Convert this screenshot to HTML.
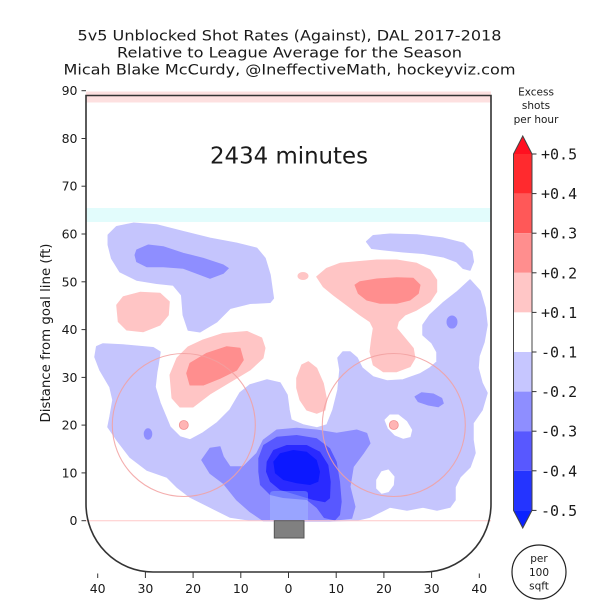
<!DOCTYPE html>
<html>
<head>
<meta charset="utf-8">
<style>
html,body{margin:0;padding:0;background:#fff;}
svg{display:block;}
text{font-family:"DejaVu Sans","Liberation Sans",sans-serif;fill:#1a1a1a;}
.mono{font-family:"DejaVu Sans Mono","Liberation Mono",monospace;}
</style>
</head>
<body>
<svg width="600" height="600" viewBox="0 0 600 600" xmlns="http://www.w3.org/2000/svg">
<rect width="600" height="600" fill="#fff"/>

<!-- Title -->
<text x="289.5" y="40.5" text-anchor="middle" font-size="14.5" textLength="424" lengthAdjust="spacingAndGlyphs">5v5 Unblocked Shot Rates (Against), DAL 2017-2018</text>
<text x="289.5" y="57.5" text-anchor="middle" font-size="14.5" textLength="345" lengthAdjust="spacingAndGlyphs">Relative to League Average for the Season</text>
<text x="289.5" y="74.5" text-anchor="middle" font-size="14.5" textLength="452" lengthAdjust="spacingAndGlyphs">Micah Blake McCurdy, @IneffectiveMath, hockeyviz.com</text>

<!-- bands -->
<rect x="86" y="91.5" width="405" height="11" fill="#fde0e0"/>
<rect x="86" y="208" width="405" height="14" fill="#e2fcfc"/>

<!-- light blue regions -->
<g fill="#c5c5fd" stroke="#c5c5fd" stroke-width="1.5" stroke-linejoin="round">
<polygon points="108.3,235 116.7,226.7 133.3,223.3 156.7,225 183.3,231.7 210,238.3 236.7,243.3 256.7,248.3 265,258.3 270,275 273.3,298.3 270,302.3 250,303.3 230,308.3 216.7,321.7 200,331.7 188.3,330 183.3,315 181.7,295 173.3,285 156.7,283.3 136.7,280 120,271.7 111.7,258.3 108.3,245"/>
<polygon points="366.7,241.7 373.3,235.7 390,234.3 416.7,235 443.3,238.3 463.3,243.3 471.7,251.7 473.3,261.7 470,270 463.3,268.3 456.7,261.7 443.3,256.7 423.3,253.3 403.3,251.7 386.7,250 371.7,248.3"/>
<polygon points="96.7,346.7 103,344 123,345 153,347.7 160,352 158,365 156.7,372 155,387 160,403 170,427 180,437 190,440 203,433 217,423 230,410 240,393 250,385 267,380 280,383 287,395 289,410 291,420 303,425 317,428 327,425 333,410 338,390 340,370 338,358 343,352 350,352 357,358 362,368 373,377 387,381 403,380 420,374 430,368 437,362 437,352 432,343 423,335 423,325 430,315 443,303 457,292 470,280 480,291 485,308 487,325 484,342 479,356 478,368 482,383 487,393 482,410 473,423 473,440 475,453 470,467 460,477 455,487 455,500 450,507 437,510 423,507 407,510 390,507 380,512 370,517 357,520 330,521 300,521 270,520.5 250,520 230,517 210,507 190,497 177,487 167,477 147,470 130,457 117,440 108,427 110,417 113,400 110,387 100,370 95,357"/>
</g>

<!-- white holes -->
<g fill="#fff" stroke="#fff" stroke-width="1" stroke-linejoin="round">
<polygon points="385,420 390,415 398.3,415 406.7,421.7 411.7,430 410,436.7 403.3,438.3 395,435 388.3,428.3"/>
<polygon points="376.7,480 381.7,471.7 388.3,470 394,476.7 393.3,485 388.3,491.7 381.7,493.3 376.7,488.3"/>
</g>

<!-- medium blue -->
<g fill="#8e8eff" stroke="#8e8eff" stroke-width="1" stroke-linejoin="round">
<polygon points="136.7,250 148.3,245 163.3,246.7 183.3,253.3 203.3,258.3 223.3,265 228.3,268.3 223.3,273.3 210,278.3 196.7,273.3 183.3,268.3 163.3,266.7 146.7,266.7 136.7,261.7 135,255"/>
<polygon points="201.7,460 210,448.3 220,446.7 223.3,456.7 230,466.7 243.3,466.7 256.7,453.3 263.3,440 276.7,430 296.7,428.3 316.7,430 336.7,433.3 356.7,430 366.7,433.3 370,443.3 363.3,453.3 353.3,466.7 350,486.7 355,506.7 351.7,518.3 330,520.7 290,520.7 263.3,520.7 250,511.7 236.7,500 223.3,483.3 210,473.3"/>
<polygon points="415,396.7 421.7,392.7 433.3,394 441.7,398.3 443.3,403.3 438.3,406.7 428.3,405 418.3,401.7"/>
<ellipse cx="452" cy="322" rx="5" ry="6"/>
<ellipse cx="148" cy="434" rx="3.8" ry="5.2"/>
</g>
<polygon fill="#5858ff" points="258.3,458.3 263.3,445 276.7,436.7 296.7,435 316.7,438.3 330,448.3 336.7,461.7 340,481.7 341.7,501.7 340,515 335,520.5 324,518 316.7,508 306.7,500 283,498 270,495 260,485 258.3,471.7"/>
<polygon fill="#2a2aff" points="266.7,461.7 273.3,450 286.7,445 306.7,445 320,451.7 328.3,465 330.7,481.7 330,498.3 325,502.3 313.3,500 296.7,495 280,490 270,481.7 266,471.7"/>
<polygon fill="#0c18ff" points="273.3,461.7 280,453.3 293.3,450 306.7,451.7 316.7,460 320,471.7 318.3,481.7 310,485 296.7,483.3 283.3,480 275,473.3"/>

<!-- light pink -->
<g fill="#ffc5c5" stroke="#ffc5c5" stroke-width="1" stroke-linejoin="round">
<polygon points="116.7,305 123.3,296.7 140,292.3 160,293.3 169.3,301.7 168.3,315 160,325 143.3,331.7 126.7,330 118.3,321.7"/>
<polygon points="170,375 177,358 188,347 203,340 223,333.5 247,331.5 261.7,338 265,348 263,358 250,370 230,382 210,394 193,407 180,407 172,398"/>
<polygon points="296.7,378 301.7,365 308.3,361.7 316.7,368.3 323.3,383.3 326.7,400 325,410 316.7,413.3 306.7,410 300,400 296.7,388"/>
<polygon points="316.7,276.7 326.7,268.3 340,263.3 356.7,261.7 376.7,260 396.7,260 416.7,263.3 430,270 436.7,280 436.7,291.7 430,301.7 416.7,310 405,315 398.3,321.7 396.7,328.3 405,338.3 413.3,348.3 415,358.3 410,366.7 396.7,371.7 383.3,371.7 373.3,365 370,351.7 371.7,338.3 373.3,328.3 370,321.7 360,315 346.7,305 333.3,295 323.3,286.7"/>
<ellipse cx="303" cy="276" rx="5" ry="3.5"/>
</g>
<g fill="#ff8e8e" stroke="#ff8e8e" stroke-width="1" stroke-linejoin="round">
<polygon points="186.7,373.3 190,363.3 206.7,353.3 226.7,346.7 240,348.3 243.3,360 236.7,370 220,378.3 203.3,385 190,385"/>
<polygon points="355,285 360,281.7 376.7,279 396.7,277.7 413.3,278.3 420,285 418.3,293.3 410,300 396.7,303.3 380,303.3 366.7,300 358.3,293.3"/>
</g>

<!-- crease -->
<path d="M270,521 V494 Q270,491 274,491 H304 Q308,491 308,494 V521 Z" fill="#b0d4ff" fill-opacity="0.32"/>

<!-- faceoff circles -->
<g fill="none" stroke="#f2a0a0" stroke-width="1.1" stroke-opacity="0.85">
<circle cx="183.8" cy="425" r="71.5"/>
<circle cx="393.8" cy="425" r="71.5"/>
</g>
<g fill="#ffb4b4" stroke="#f29090" stroke-width="0.8">
<circle cx="183.8" cy="425" r="4.5"/>
<circle cx="393.8" cy="425" r="4.5"/>
</g>

<!-- goal line & goal -->
<line x1="86" y1="520.7" x2="491" y2="520.7" stroke="#ffc8c8" stroke-width="1"/>
<rect x="274.3" y="520.7" width="29.7" height="17.3" fill="#808080" stroke="#555" stroke-width="1"/>

<!-- rink outline -->
<path d="M86,95.5 H491 V504 A67,68 0 0 1 424,572 H153 A67,68 0 0 1 86,504 Z" fill="none" stroke="#333" stroke-width="1.6"/>

<!-- y ticks -->
<g stroke="#333" stroke-width="1">
<line x1="81.5" y1="90.7" x2="86" y2="90.7"/>
<line x1="81.5" y1="138.5" x2="86" y2="138.5"/>
<line x1="81.5" y1="186.2" x2="86" y2="186.2"/>
<line x1="81.5" y1="234" x2="86" y2="234"/>
<line x1="81.5" y1="281.8" x2="86" y2="281.8"/>
<line x1="81.5" y1="329.6" x2="86" y2="329.6"/>
<line x1="81.5" y1="377.4" x2="86" y2="377.4"/>
<line x1="81.5" y1="425.1" x2="86" y2="425.1"/>
<line x1="81.5" y1="472.9" x2="86" y2="472.9"/>
<line x1="81.5" y1="520.7" x2="86" y2="520.7"/>
</g>
<g font-size="12.5" text-anchor="end">
<text x="77.5" y="95.2">90</text>
<text x="77.5" y="143">80</text>
<text x="77.5" y="190.7">70</text>
<text x="77.5" y="238.5">60</text>
<text x="77.5" y="286.3">50</text>
<text x="77.5" y="334.1">40</text>
<text x="77.5" y="381.9">30</text>
<text x="77.5" y="429.6">20</text>
<text x="77.5" y="477.4">10</text>
<text x="77.5" y="525.2">0</text>
</g>
<text transform="translate(50,333) rotate(-90)" text-anchor="middle" font-size="13" textLength="179" lengthAdjust="spacingAndGlyphs">Distance from goal line (ft)</text>

<!-- x ticks -->
<g stroke="#333" stroke-width="1">
<line x1="97.7" y1="573.5" x2="97.7" y2="578"/>
<line x1="145.4" y1="572" x2="145.4" y2="578"/>
<line x1="193.1" y1="572" x2="193.1" y2="578"/>
<line x1="240.8" y1="572" x2="240.8" y2="578"/>
<line x1="288.5" y1="572" x2="288.5" y2="578"/>
<line x1="336.2" y1="572" x2="336.2" y2="578"/>
<line x1="383.9" y1="572" x2="383.9" y2="578"/>
<line x1="431.6" y1="572" x2="431.6" y2="578"/>
<line x1="479.3" y1="573.5" x2="479.3" y2="578"/>
</g>
<g font-size="12.5" text-anchor="middle">
<text x="97.7" y="593">40</text>
<text x="145.4" y="593">30</text>
<text x="193.1" y="593">20</text>
<text x="240.8" y="593">10</text>
<text x="288.5" y="593">0</text>
<text x="336.2" y="593">10</text>
<text x="383.9" y="593">20</text>
<text x="431.6" y="593">30</text>
<text x="479.3" y="593">40</text>
</g>

<!-- minutes -->
<text x="289" y="163.4" text-anchor="middle" font-size="23" textLength="158" lengthAdjust="spacingAndGlyphs">2434 minutes</text>

<!-- colorbar -->
<g font-size="10.5" text-anchor="middle">
<text x="536" y="95.5">Excess</text>
<text x="536" y="109">shots</text>
<text x="536" y="123">per hour</text>
</g>
<polygon points="513.5,154 522.75,136 532,154" fill="#ff1020"/>
<rect x="513.5" y="154" width="18.5" height="39.6" fill="#ff2a2e"/>
<rect x="513.5" y="193.6" width="18.5" height="39.6" fill="#ff5858"/>
<rect x="513.5" y="233.2" width="18.5" height="39.6" fill="#ff8e8e"/>
<rect x="513.5" y="272.8" width="18.5" height="39.6" fill="#ffc6c6"/>
<rect x="513.5" y="312.4" width="18.5" height="39.6" fill="#ffffff"/>
<rect x="513.5" y="352" width="18.5" height="39.6" fill="#c6c6ff"/>
<rect x="513.5" y="391.6" width="18.5" height="39.6" fill="#8e8eff"/>
<rect x="513.5" y="431.2" width="18.5" height="39.6" fill="#5858ff"/>
<rect x="513.5" y="470.8" width="18.5" height="39.6" fill="#2434ff"/>
<polygon points="513.5,510.4 522.75,528 532,510.4" fill="#0a22ff"/>
<path d="M513.5,154 L522.75,136 L532,154 V510.4 L522.75,528 L513.5,510.4 Z" fill="none" stroke="#444" stroke-width="1"/>
<g stroke="#333" stroke-width="1">
<line x1="532" y1="154" x2="536.5" y2="154"/>
<line x1="532" y1="193.6" x2="536.5" y2="193.6"/>
<line x1="532" y1="233.2" x2="536.5" y2="233.2"/>
<line x1="532" y1="272.8" x2="536.5" y2="272.8"/>
<line x1="532" y1="312.4" x2="536.5" y2="312.4"/>
<line x1="532" y1="352" x2="536.5" y2="352"/>
<line x1="532" y1="391.6" x2="536.5" y2="391.6"/>
<line x1="532" y1="431.2" x2="536.5" y2="431.2"/>
<line x1="532" y1="470.8" x2="536.5" y2="470.8"/>
<line x1="532" y1="510.4" x2="536.5" y2="510.4"/>
</g>
<g class="mono" font-size="15">
<text class="mono" x="541" y="159.5">+0.5</text>
<text class="mono" x="541" y="199.1">+0.4</text>
<text class="mono" x="541" y="238.7">+0.3</text>
<text class="mono" x="541" y="278.3">+0.2</text>
<text class="mono" x="541" y="317.9">+0.1</text>
<text class="mono" x="541" y="357.5">-0.1</text>
<text class="mono" x="541" y="397.1">-0.2</text>
<text class="mono" x="541" y="436.7">-0.3</text>
<text class="mono" x="541" y="476.3">-0.4</text>
<text class="mono" x="541" y="515.9">-0.5</text>
</g>

<!-- per 100 sqft -->
<circle cx="539" cy="572" r="27" fill="#fff" stroke="#222" stroke-width="1.2"/>
<g font-size="10.5" text-anchor="middle">
<text x="539" y="562">per</text>
<text x="539" y="576">100</text>
<text x="539" y="589.5">sqft</text>
</g>
</svg>
</body>
</html>
